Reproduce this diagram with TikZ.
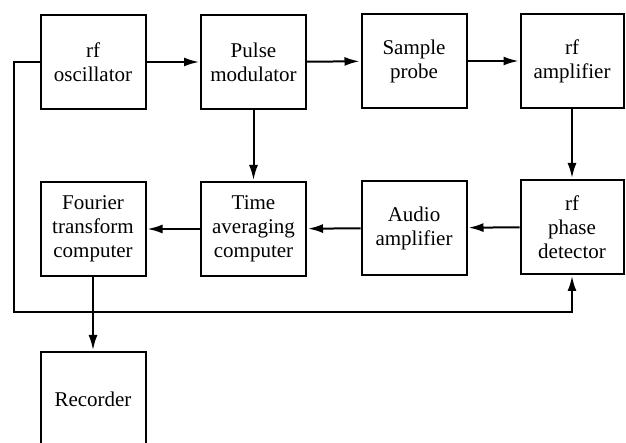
\documentclass[tikz,border=0pt]{standalone}
\usepackage{fontspec}
\setmainfont{Liberation Serif}
\usetikzlibrary{arrows.meta}
\begin{document}
\begin{tikzpicture}[x=1pt,y=-1pt,
  block/.style={draw, line width=2pt, minimum width=105pt, minimum height=94pt,
    inner sep=0pt, align=center, font=\fontsize{21}{24}\selectfont},
  flow/.style={line width=2pt, -{Latex[length=15pt,width=9pt]}, shorten >=1pt}]
\useasboundingbox (0,0) rectangle (626,443);
% top row
\node[block] (osc)    at (93,62)    {rf\\oscillator};
\node[block] (pulse)  at (253.5,62) {Pulse\\modulator};
\node[block] (sample) at (414,61)   {Sample\\probe};
\node[block, minimum width=103pt] (amp) at (572,61) {rf\\amplifier};
% second row
\node[block] (fourier) at (93,229)    {Fourier\\transform\\computer};
\node[block] (timeavg) at (253.5,229) {Time\\averaging\\computer};
\node[block] (audio)   at (414,228)   {Audio\\amplifier};
\node[block, minimum width=103pt] (phase) at (572,227) {rf\\phase\\detector};
% recorder, running past the lower edge
\node[block] (rec) at (93,399) {Recorder};
% signal path
\draw[flow] (osc) -- (pulse);
\draw[flow] (pulse) -- (sample);
\draw[flow] (sample) -- (amp);
\draw[flow] (amp) -- (phase);
\draw[flow] (pulse) -- (timeavg);
\draw[flow] (phase) -- (audio);
\draw[flow] (audio) -- (timeavg);
\draw[flow] (timeavg) -- (fourier);
\draw[flow] (fourier) -- (rec);
% reference from the oscillator to the phase detector
\coordinate (c1) at (14,62);
\coordinate (c2) at (14,312);
\draw[flow] (osc.west) -- (c1) -- (c2) -- (c2 -| phase.south) -- (phase.south);
\end{tikzpicture}
\end{document}
